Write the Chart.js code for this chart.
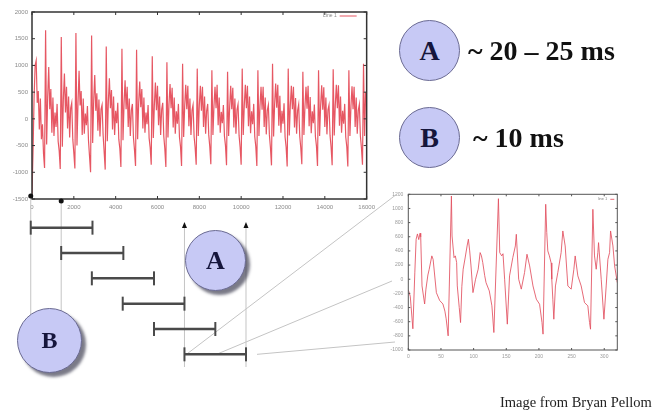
<!DOCTYPE html>
<html><head><meta charset="utf-8">
<script src="https://cdn.jsdelivr.net/npm/chart.js@4.4.1/dist/chart.umd.min.js"></script>
<style>
html,body{margin:0;padding:0;background:#fff;width:662px;height:417px;overflow:hidden;}
#wrap{position:relative;width:662px;height:417px;}
canvas{position:absolute;}
#main{left:0;top:0;}
#inset{left:380px;top:185px;}
#frames{left:0;top:0;}
.circ{position:absolute;border-radius:50%;background:#c7c9f5;border:1.5px solid #6a6a92;box-sizing:border-box;display:flex;align-items:center;justify-content:center;font-family:'Liberation Serif','Times New Roman',serif;font-weight:bold;color:#16163c;z-index:5;}
.shadow{box-shadow:4px 4px 3px rgba(50,50,70,0.65);}
.lbl{position:absolute;font-family:'Liberation Serif','Times New Roman',serif;font-weight:bold;color:#111;font-size:28px;line-height:1;white-space:nowrap;z-index:5;}
.credit{position:absolute;left:500px;top:395px;font-family:'Liberation Serif','Times New Roman',serif;font-size:14.5px;line-height:1;color:#222;white-space:nowrap;z-index:5;}
</style>
</head><body>
<div id="wrap">
<canvas id="main" width="380" height="212"></canvas>
<canvas id="inset" width="250" height="180"></canvas>
<canvas id="frames" width="662" height="417"></canvas>
<div class="circ" style="left:399px;top:20px;width:61px;height:61px;font-size:28px;">A</div>
<div class="lbl" style="left:468px;top:37px;">~ 20 – 25 ms</div>
<div class="circ" style="left:399px;top:107px;width:61px;height:61px;font-size:28px;">B</div>
<div class="lbl" style="left:473px;top:124px;">~ 10 ms</div>
<div class="circ shadow" style="left:185px;top:230px;width:61px;height:61px;font-size:26px;">A</div>
<div class="circ shadow" style="left:17px;top:308px;width:65px;height:65px;font-size:24px;">B</div>
<div class="credit">Image from Bryan Pellom</div>
</div>
<script>
// ---- main waveform (one value every sampleStep samples) ----
const sampleStep = 50;
const mainValues = [
-1400,-600,400,1000,1090,300,520,-200,380,-380,-100,-650,-920,
1656,-480,420,970,180,560,-260,400,-320,120,-150,280,-420,-600,-940,
1530,-520,380,850,120,600,-180,420,-350,200,300,-380,-640,-930,
1605,-500,300,900,250,520,-300,380,-280,100,-120,240,-400,-700,-1000,
1562,-450,350,820,150,480,-220,360,-330,180,260,-300,-620,-950,
1356,-420,320,760,200,540,-200,420,-300,150,-80,300,-380,-560,-900,
1312,-400,280,720,180,600,-150,380,-320,160,280,-350,-580,-880,
1294,-380,300,700,220,560,-180,400,-260,120,-100,260,-360,-540,-860,
1170,-360,260,680,160,620,-120,420,-300,180,300,-320,-560,-900,
1060,-350,280,650,200,580,-160,400,-280,140,-90,280,-340,-520,-880,
1030,-340,240,640,180,620,-140,380,-300,160,260,-330,-540,-860,
940,-320,260,620,150,600,-150,420,-280,150,280,-300,-520,-850,
910,-300,240,600,200,640,-120,400,-260,130,-80,260,-320,-500,-870,
880,-320,220,620,180,580,-160,380,-280,170,270,-310,-530,-860,
940,-300,260,640,200,620,-140,420,-270,140,-100,280,-330,-520,-880,
910,-320,240,600,170,600,-150,400,-290,160,260,-300,-540,-870,
1030,-330,280,660,210,640,-130,430,-260,150,-90,290,-340,-530,-890,
940,-310,250,620,180,600,-160,390,-280,160,270,-320,-540,-850,
880,-300,230,600,190,620,-140,410,-270,140,-80,270,-330,-510,-880,
910,-320,250,630,170,590,-150,400,-290,170,260,-310,-530,-870,
930,-310,260,640,200,630,-130,420,-260,150,-90,280,-340,-520,-890,
910,-320,240,610,180,600,-150,400,-280,160,270,-320,-540,-860,
1030,-320,500
];
const mainXTicks = [0,2000,4000,6000,8000,10000,12000,14000,16000];
const mainYTicks = [-1500,-1000,-500,0,500,1000,1500,2000];

// ---- zoomed inset (20 ms) ----
const insetX = [0,3,7,10,12,14,16,18,19,21,25,27,30,32,36,38,43,48,53,56,58,61,66,
67,70,72,74,75,78,80,82,84,87,90,92,94,96,99,103,107,110,112,114,117,119,124,128,131,138,
140,143,145,147.5,151.6,155,160,163.9,165.4,169,173,178,181.7,185.8,190.9,196,201,204.7,206.3,210.4,
212,213.6,216,218.7,219.7,221.3,222.8,225.3,228.9,234,236.6,240.2,244.3,249.4,253.5,255.5,259.6,264.7,269.8,274.9,277.5,279,282.6,
285.1,287.7,290.2,291.3,295.4,299.5,303,305.6,308.2,309.7,313.3,315.9,320];
const insetY = [-150,-240,-700,100,565,640,560,650,600,-95,-350,-140,60,140,330,280,-190,-300,-350,-450,-560,-800,1176,
611,305,330,235,-95,-400,-612,-100,141,300,470,565,400,188,-189,0,141,376,330,235,50,-48,-165,-376,-753,1138,
376,330,360,0,-635,47,305,470,635,0,-140,94,353,188,-95,-282,-353,-612,-776,1059,
659,400,330,230,0,-282,-565,-95,94,376,682,470,-95,-140,141,329,47,-95,-330,-376,-612,-706,988,
329,141,376,517,0,-565,-95,282,376,682,470,188,-48];
const insetXTicks = [0,50,100,150,200,250,300];
const insetYTicks = [-1000,-800,-600,-400,-200,0,200,400,600,800,1000,1200];

// ---- analysis frames (sample positions) ----
const frameStart = [-60,1390,2850,4320,5810,7260];
const frameEnd   = [2880,4350,5810,7260,8730,10190];

// plugin: boxed plot with inward ticks and an inner legend
const boxPlugin = {
  id:'box',
  afterDatasetsDraw(chart, args, o){
    const {ctx, chartArea:a, scales:{x,y}} = chart;
    ctx.save();
    ctx.strokeStyle = o.color; ctx.lineWidth = o.width;
    ctx.strokeRect(a.left, a.top, a.right-a.left, a.bottom-a.top);
    ctx.lineWidth = 1;
    ctx.beginPath();
    x.ticks.forEach(t=>{const p=x.getPixelForValue(t.value);
      ctx.moveTo(p,a.bottom); ctx.lineTo(p,a.bottom-o.tick);
      ctx.moveTo(p,a.top); ctx.lineTo(p,a.top+o.tick);});
    y.ticks.forEach(t=>{const p=y.getPixelForValue(t.value);
      ctx.moveTo(a.left,p); ctx.lineTo(a.left+o.tick,p);
      ctx.moveTo(a.right,p); ctx.lineTo(a.right-o.tick,p);});
    ctx.stroke();
    const ds = chart.data.datasets[0];
    ctx.font = o.legendFont; ctx.fillStyle = '#888'; ctx.textAlign='right'; ctx.textBaseline='middle';
    const ly = a.top + o.legendDy;
    ctx.fillText(ds.label, a.right - o.legendGap, ly);
    ctx.strokeStyle = ds.borderColor; ctx.lineWidth = 1;
    ctx.beginPath(); ctx.moveTo(a.right - o.legendGap + 3, ly); ctx.lineTo(a.right - o.legendEnd, ly); ctx.stroke();
    ctx.restore();
  }
};

const tickFont = {family:'Liberation Sans', size:6};
const noGrid = {display:false, drawTicks:false};

new Chart(document.getElementById('main'), {
  type:'line',
  data:{datasets:[{label:'Line 1', data: mainValues.map((v,i)=>({x:i*sampleStep, y:v})),
    borderColor:'rgba(226,58,72,0.85)', borderWidth:1.2, pointRadius:0, tension:0, fill:false}]},
  options:{responsive:false, animation:false, events:[],
    layout:{padding:{top:12,right:12,left:0,bottom:0}},
    plugins:{legend:{display:false}, tooltip:{enabled:false},
      box:{color:'#333', width:1.5, tick:3, legendFont:'5px Liberation Sans', legendDy:4, legendGap:30, legendEnd:10}},
    scales:{
      x:{type:'linear', min:0, max:16000,
        afterBuildTicks:s=>{s.ticks = mainXTicks.map(v=>({value:v}));},
        afterFit:s=>{s.height = 13;},
        grid:noGrid, border:{display:false},
        ticks:{font:tickFont, color:'#8a8a8a', padding:5, maxRotation:0, autoSkip:false, callback:v=>String(v)}},
      y:{type:'linear', min:-1500, max:2000,
        afterBuildTicks:s=>{s.ticks = mainYTicks.map(v=>({value:v}));},
        afterFit:s=>{s.width = 32;},
        grid:noGrid, border:{display:false},
        ticks:{font:tickFont, color:'#8a8a8a', padding:4, autoSkip:false, callback:v=>String(v)}}
    }
  },
  plugins:[boxPlugin]
});

new Chart(document.getElementById('inset'), {
  type:'line',
  data:{datasets:[{label:'line 1', data: insetX.map((x,i)=>({x:x, y:insetY[i]})),
    borderColor:'rgba(226,80,95,0.85)', borderWidth:1, pointRadius:0, tension:0, fill:false}]},
  options:{responsive:false, animation:false, events:[],
    layout:{padding:{top:9.3,right:12.7,left:0,bottom:0}},
    plugins:{legend:{display:false}, tooltip:{enabled:false},
      box:{color:'#555', width:1, tick:2, legendFont:'4px Liberation Sans', legendDy:5, legendGap:10, legendEnd:3}},
    scales:{
      x:{type:'linear', min:0, max:320,
        afterBuildTicks:s=>{s.ticks = insetXTicks.map(v=>({value:v}));},
        afterFit:s=>{s.height = 15;},
        grid:noGrid, border:{display:false},
        ticks:{font:{family:'Liberation Sans', size:5}, color:'#999', padding:4, maxRotation:0, autoSkip:false, callback:v=>String(v)}},
      y:{type:'linear', min:-1000, max:1200,
        afterBuildTicks:s=>{s.ticks = insetYTicks.map(v=>({value:v}));},
        afterFit:s=>{s.width = 28.3;},
        grid:noGrid, border:{display:false},
        ticks:{font:{family:'Liberation Sans', size:5}, color:'#999', padding:5, autoSkip:false, callback:v=>String(v)}}
    }
  },
  plugins:[boxPlugin]
});

// plugin: guide lines, arrow tips and connectors to the zoom inset
const guidePlugin = {
  id:'guides',
  beforeDatasetsDraw(chart){
    const {ctx, scales:{x}} = chart;
    const last = frameStart.length - 1;
    const barY = chart.scales.y.getPixelForValue(last + 1);
    ctx.save();
    ctx.strokeStyle = '#c4c4c4'; ctx.lineWidth = 1;
    ctx.beginPath();
    const g0 = x.getPixelForValue(frameStart[0]), g1 = x.getPixelForValue(frameStart[1]);
    ctx.moveTo(g0, 196); ctx.lineTo(g0, 322);
    ctx.moveTo(g1, 201); ctx.lineTo(g1, 322);
    const s5 = x.getPixelForValue(frameStart[last]), e5 = x.getPixelForValue(frameEnd[last]);
    ctx.moveTo(s5, 226); ctx.lineTo(s5, 367);
    ctx.moveTo(e5, 226); ctx.lineTo(e5, 367);
    // connectors to inset
    ctx.moveTo(s5 + 2, barY); ctx.lineTo(397, 194);
    ctx.moveTo(s5 + 32, barY); ctx.lineTo(392, 281);
    ctx.moveTo(e5 + 11, barY); ctx.lineTo(395, 342);
    ctx.stroke();
    ctx.fillStyle = '#111';
    [[g0,196],[g1,201]].forEach(([px,py])=>{ctx.beginPath(); ctx.arc(px,py,2.5,0,Math.PI*2); ctx.fill();});
    [s5,e5].forEach(px=>{ctx.beginPath(); ctx.moveTo(px,222); ctx.lineTo(px-2.5,228); ctx.lineTo(px+2.5,228); ctx.closePath(); ctx.fill();});
    ctx.restore();
  }
};

new Chart(document.getElementById('frames'), {
  type:'scatter',
  data:{datasets: frameStart.map((s,i)=>({label:'frame '+(i+1),
    data:[{x:s, y:i+1},{x:frameEnd[i], y:i+1}], showLine:true, clip:false,
    borderColor:'#4a4a4a', borderWidth:2.5, pointStyle:'line', rotation:90, pointRadius:7,
    pointBorderWidth:2, pointBorderColor:'#4a4a4a'}))},
  options:{responsive:false, animation:false, events:[],
    layout:{padding:{left:32,right:294,top:215,bottom:50}},
    plugins:{legend:{display:false}, tooltip:{enabled:false}},
    scales:{x:{type:'linear', min:0, max:16000, display:false},
            y:{type:'linear', min:0.5, max:6.5, reverse:true, display:false}}
  },
  plugins:[guidePlugin]
});
</script>
</body></html>
